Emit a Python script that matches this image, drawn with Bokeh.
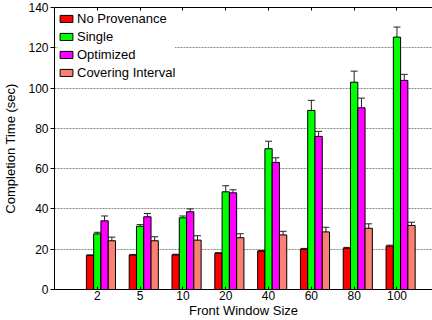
from bokeh.plotting import figure
from bokeh.models import (ColumnDataSource, Whisker, TeeHead, FixedTicker, LinearAxis,
                          Legend, LegendItem)
from bokeh.embed import file_html
from bokeh.resources import INLINE

windows = ["2", "5", "10", "20", "40", "60", "80", "100"]
no_prov = [16.9, 17.1, 17.2, 17.9, 19.0, 20.0, 20.5, 21.5]
no_prov_err = [0.3, 0.3, 0.3, 0.4, 0.4, 0.4, 0.4, 0.5]
single = [27.6, 31.4, 35.6, 48.5, 69.9, 88.9, 102.9, 125.3]
single_err = [0.8, 0.8, 0.9, 3.0, 3.7, 5.0, 5.5, 5.0]
optimized = [34.1, 36.1, 38.6, 48.0, 63.1, 76.0, 90.2, 103.8]
optimized_err = [2.4, 1.6, 1.4, 1.5, 2.3, 2.5, 4.8, 3.0]
covering = [24.2, 24.2, 24.5, 25.7, 27.1, 28.6, 30.4, 31.8]
covering_err = [1.8, 2.0, 2.2, 2.0, 1.8, 2.3, 2.2, 1.6]

series = [
    ("No Provenance", no_prov, no_prov_err, "#ff0000"),
    ("Single", single, single_err, "#00ff00"),
    ("Optimized", optimized, optimized_err, "#ff00ff"),
    ("Covering Interval", covering, covering_err, "#fa8072"),
]

FONT = "Liberation Sans"
bar_w = 0.17
offsets = [-0.17, 0.0, 0.17, 0.34]
positions = list(range(1, len(windows) + 1))

p = figure(width=432, height=320, x_range=(0, 8.83), y_range=(0, 140),
           output_backend="svg", toolbar_location=None,
           min_border_left=53, min_border_right=0, min_border_top=7,
           min_border_bottom=31, x_axis_location="below")
p.outline_line_color = None
p.background_fill_color = "white"

p.xgrid.grid_line_color = None
p.ygrid.grid_line_color = "#888888"
p.ygrid.grid_line_dash = "2 1"
p.ygrid.grid_line_width = 1
p.ygrid.ticker = FixedTicker(ticks=[20, 40, 60, 80, 100, 120])

items = []
for i, (name, vals, errs, color) in enumerate(series):
    xs = [x + offsets[i] for x in positions]
    src = ColumnDataSource(dict(
        x=xs, top=vals,
        upper=[v + e for v, e in zip(vals, errs)],
        lower=[v - e for v, e in zip(vals, errs)],
    ))
    r = p.vbar(x="x", top="top", width=bar_w, bottom=0, source=src,
               fill_color=color, line_color="black", line_width=1)
    w = Whisker(base="x", upper="upper", lower="lower", source=src,
                line_color="#222222", line_width=1,
                upper_head=TeeHead(size=7, line_color="#222222", line_width=1),
                lower_head=TeeHead(size=7, line_color="#222222", line_width=1))
    p.add_layout(w)
    items.append(LegendItem(label=name, renderers=[r]))

# axes
xa = p.xaxis[0]
xa.ticker = FixedTicker(ticks=positions)
xa.major_label_overrides = {pos: lab for pos, lab in zip(positions, windows)}
xa.axis_label = "Front Window Size"
xa.major_tick_in = 3
xa.major_tick_out = 0
xa.minor_tick_line_color = None
xa.major_label_standoff = 1
xa.axis_label_standoff = 0

ya = p.yaxis[0]
ya.ticker = FixedTicker(ticks=[0, 20, 40, 60, 80, 100, 120, 140])
ya.axis_label = "Completion Time (sec)"
ya.major_tick_in = 0
ya.major_tick_out = 4
ya.minor_tick_line_color = None
ya.major_label_standoff = 2
ya.axis_label_standoff = 7

for ax in (xa, ya):
    ax.major_label_text_font = FONT
    ax.major_label_text_font_size = "12px"
    ax.major_label_text_color = "black"
    ax.axis_label_text_font = FONT
    ax.axis_label_text_font_size = "13px"
    ax.axis_label_text_font_style = "normal"
    ax.axis_label_text_color = "black"
    ax.axis_line_color = "black"
    ax.major_tick_line_color = "black"

top_axis = LinearAxis(ticker=FixedTicker(ticks=positions),
                      major_label_text_font_size="1px",
                      major_label_text_color=None,
                      major_tick_in=3, major_tick_out=0,
                      minor_tick_line_color=None,
                      major_label_standoff=0, axis_line_color="black")
p.add_layout(top_axis, "above")

legend = Legend(items=items, location="top_left")
legend.label_text_font = FONT
legend.label_text_font_size = "13px"
legend.label_text_color = "black"
legend.glyph_width = 16
legend.glyph_height = 9
legend.label_height = 15
legend.label_standoff = 3
legend.spacing = 3
legend.padding = 5
legend.margin = 4
legend.border_line_color = None
legend.background_fill_color = "white"
legend.background_fill_alpha = 1
p.add_layout(legend)

open("out.html", "w").write(file_html(p, INLINE))
